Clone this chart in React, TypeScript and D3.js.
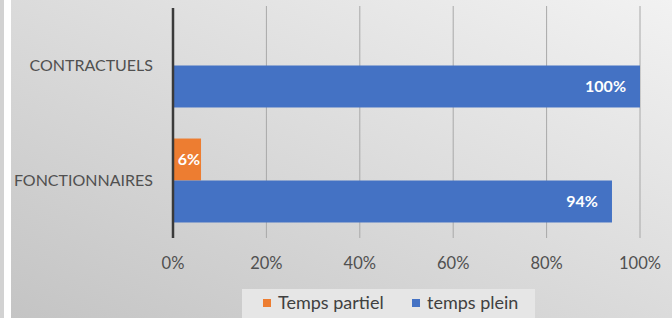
import React from "react";
import * as d3 from "d3";

const categories = ["CONTRACTUELS", "FONCTIONNAIRES"];
const series = ["Temps partiel", "temps plein"];
const tempsPartiel = [0, 0.06];
const tempsPlein = [1.0, 0.94];
const xTicks = [0, 0.2, 0.4, 0.6, 0.8, 1.0];
const colors = ["#ED7D31", "#4472C4"];

const W = 672;
const H = 318;
const FONT = "Lato, 'Open Sans', sans-serif";

export default function App() {
  const x = d3.scaleLinear().domain([0, 1]).range([173, 640]);
  const y = d3.scaleBand().domain(categories).range([8, 238]).paddingInner(0.27).paddingOuter(0.135);
  const inner = d3.scaleBand().domain(series).range([0, y.bandwidth()]);
  const values = [tempsPartiel, tempsPlein];
  const fmt = d3.format(".0%");

  return (
    <svg width={W} height={H} style={{ position: "absolute", left: 0, top: 0 }}>
      <defs>
        <linearGradient id="bg" x1="0" y1="1" x2="1" y2="0">
          <stop offset="0" stopColor="#c4c4c4" />
          <stop offset="1" stopColor="#f2f2f2" />
        </linearGradient>
      </defs>
      <rect x={0} y={0} width={W} height={H} fill="#ffffff" />
      <rect x={0} y={0} width={4} height={H} fill="#d2d2d2" />
      <rect x={11} y={0} width={W - 11} height={H} fill="url(#bg)" />
      {xTicks.map((t) =>
        t === 0 ? null : (
          <line key={t} x1={x(t)} x2={x(t)} y1={6} y2={238} stroke="#a8a8a8" strokeWidth={1} />
        )
      )}
      {categories.map((c, ci) =>
        series.map((s, si) => {
          const v = values[si][ci];
          if (!v) return null;
          const yy = (y(c) as number) + (inner(s) as number);
          const h = inner.bandwidth();
          return (
            <g key={c + s}>
              <rect x={x(0)} y={yy} width={x(v) - x(0)} height={h} fill={colors[si]} />
              <text
                x={si === 0 ? (x(0) + x(v)) / 2 + 2 : x(v) - 14}
                y={yy + h / 2}
                dy="0.35em"
                textAnchor={si === 0 ? "middle" : "end"}
                fill="#ffffff"
                fontWeight="bold"
                fontSize={16}
                fontFamily={FONT}
              >
                {fmt(v)}
              </text>
            </g>
          );
        })
      )}
      <line x1={x(0)} x2={x(0)} y1={8} y2={238} stroke="#3a3a3a" strokeWidth={2.5} />
      {categories.map((c) => (
        <text
          key={c}
          x={153}
          y={(y(c) as number) + y.bandwidth() / 2}
          dy="0.35em"
          textAnchor="end"
          fill="#505050"
          fontSize={16}
          fontFamily={FONT}
        >
          {c}
        </text>
      ))}
      {xTicks.map((t) => (
        <text
          key={"l" + t}
          x={x(t)}
          y={263}
          dy="0.35em"
          textAnchor="middle"
          fill="#505050"
          fontSize={16.5}
          fontFamily={FONT}
        >
          {fmt(t)}
        </text>
      ))}
      <rect x={242} y={289} width={293} height={29} fill="#e6e6e6" />
      {series.map((s, i) => {
        const lx = [263, 412][i];
        return (
          <g key={s}>
            <rect x={lx} y={299} width={8} height={8} fill={colors[i]} />
            <text x={lx + 15} y={303} dy="0.35em" fill="#404040" fontSize={18} fontFamily={FONT}>
              {s}
            </text>
          </g>
        );
      })}
    </svg>
  );
}
